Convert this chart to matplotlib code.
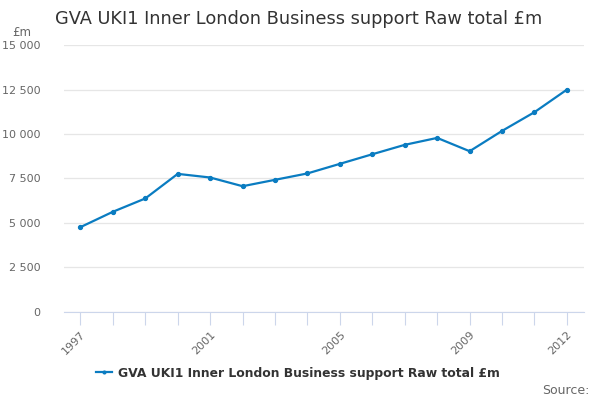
import matplotlib
matplotlib.use('Agg')
import matplotlib.pyplot as plt
from matplotlib.ticker import FuncFormatter

years = [1997, 1998, 1999, 2000, 2001, 2002, 2003, 2004,
         2005, 2006, 2007, 2008, 2009, 2010, 2011, 2012]
gva = [4755, 5620, 6370, 7755, 7550, 7060, 7420, 7780,
       8320, 8860, 9390, 9780, 9030, 10175, 11230, 12500]
label_years = [1997, 2001, 2005, 2009, 2012]
yticks = [0, 2500, 5000, 7500, 10000, 12500, 15000]

title = 'GVA UKI1 Inner London Business support Raw total £m'
line_col = '#0a7cc1'

fig = plt.figure(figsize=(6, 4), dpi=100)
ax = fig.add_axes([0.107, 0.221, 0.866, 0.666])

ax.plot(years, gva, color=line_col, lw=1.6, marker='o', markersize=2.8,
        label=title)

ax.set_xlim(1996.5, 2012.52)
ax.set_ylim(0, 15000)
ax.set_yticks(yticks)
ax.yaxis.set_major_formatter(FuncFormatter(lambda v, p: f'{int(v):,}'.replace(',', ' ')))
ax.grid(axis='y', color='#e6e6e6', lw=0.9)
ax.set_axisbelow(True)

ax.set_xticks(years)
ax.set_xticklabels([str(y) if y in label_years else '' for y in years],
                   rotation=45, ha='right', rotation_mode='anchor')
ax.tick_params(axis='x', length=9, color='#ccd6eb', labelcolor='#666666',
               labelsize=8, pad=4)
ax.tick_params(axis='y', length=0, labelcolor='#666666', labelsize=8, pad=17)

for s in ['top', 'right', 'left']:
    ax.spines[s].set_visible(False)
ax.spines['bottom'].set_color('#ccd6eb')

fig.text(0.092, 0.953, title, fontsize=12.8, color='#333333', va='center')
fig.text(0.02, 0.92, '£m', fontsize=8.5, color='#666666', va='center')

leg = ax.legend(loc='center', bbox_to_anchor=(0.497, 0.0675), bbox_transform=fig.transFigure,
                frameon=False, prop={'weight': 'bold', 'size': 8.9},
                handlelength=1.3, handletextpad=0.5, markerscale=0.7)
for t in leg.get_texts():
    t.set_color('#333333')

fig.text(0.983, 0.025, 'Source:', fontsize=9, color='#666666', ha='right', va='center')

fig.savefig('out.png', dpi=100)
